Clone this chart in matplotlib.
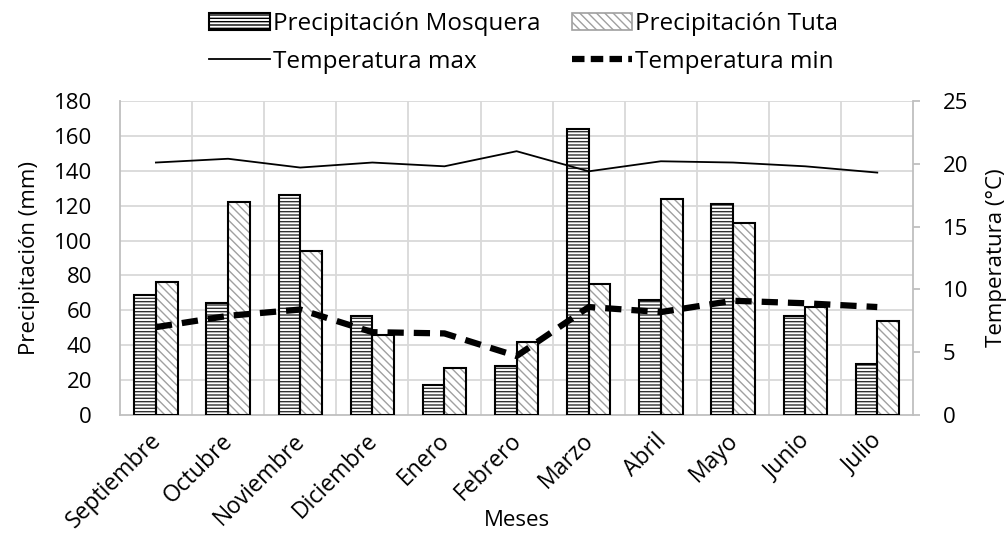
import matplotlib
matplotlib.use("Agg")
import matplotlib.pyplot as plt
import matplotlib.transforms as mtrans
import numpy as np
from matplotlib.lines import Line2D
from matplotlib.patches import Patch

months = ["Septiembre", "Octubre", "Noviembre", "Diciembre", "Enero", "Febrero",
          "Marzo", "Abril", "Mayo", "Junio", "Julio"]
prec_mosquera = [69, 64, 126, 57, 17, 28, 164, 66, 121, 57, 29]
prec_tuta = [76, 122, 94, 46, 27, 42, 75, 124, 110, 62, 54]
temp_max = [20.1, 20.4, 19.7, 20.1, 19.8, 21.0, 19.4, 20.2, 20.1, 19.8, 19.3]
temp_min = [7.0, 7.9, 8.4, 6.6, 6.5, 4.7, 8.6, 8.2, 9.1, 8.9, 8.6]

plt.rcParams['font.family'] = ['Open Sans', 'DejaVu Sans']
FS = 16
FSX = 16.5
FSL = 17.5

fig = plt.figure(figsize=(10.07, 5.37), dpi=100)
ax = fig.add_axes([0.119, 0.227, 0.788, 0.585])
ax2 = ax.twinx()

x = np.arange(len(months))
w = 0.30
grid_c = "#d9d9d9"

plt.rcParams['hatch.linewidth'] = 1.0
ax.bar(x - w/2, prec_mosquera, w, color="white", edgecolor="#303030", hatch="-----", linewidth=0, zorder=2)
ax.bar(x + w/2, prec_tuta, w, color="white", edgecolor="#a0a0a0", hatch="\\\\\\\\", linewidth=0, zorder=2)
ax.bar(x - w/2, prec_mosquera, w, fill=False, edgecolor="black", linewidth=1.5, zorder=3)
ax.bar(x + w/2, prec_tuta, w, fill=False, edgecolor="black", linewidth=1.5, zorder=3)

ax.set_xlim(-0.5, len(months) - 0.5)
ax.set_ylim(0, 180)
ax.set_yticks(np.arange(0, 181, 20))
ax.set_xticks(x)
ax.set_xticklabels(months, rotation=45, ha="right", rotation_mode="anchor", fontsize=FSX)
ax.tick_params(axis="x", length=0, pad=10)
ax.tick_params(axis="y", length=0, labelsize=FS, pad=20)
offset = mtrans.ScaledTranslation(-7/100, 0, fig.dpi_scale_trans)
for lab in ax.get_xticklabels():
    lab.set_transform(lab.get_transform() + offset)

for yv in np.arange(20, 181, 20):
    ax.axhline(yv, color=grid_c, lw=1.3, zorder=0)
for xv in np.arange(0.5, len(months) - 0.5, 1):
    ax.axvline(xv, color=grid_c, lw=1.3, zorder=0)

ax.spines["top"].set_visible(False)
ax2.spines["top"].set_visible(False)
ax.spines["right"].set_visible(False)
ax2.spines["left"].set_visible(False)
ax2.spines["bottom"].set_visible(False)
for sp in (ax.spines["left"], ax.spines["bottom"], ax2.spines["right"]):
    sp.set_color("#bfbfbf")
    sp.set_linewidth(1.3)

ax.set_ylabel("Precipitación (mm)", fontsize=FS, labelpad=10)
ax.set_xlabel("Meses", fontsize=FS, va="center")
ax.xaxis.set_label_coords(0.5, -0.335)

ax2.plot(x, temp_max, color="black", lw=1.3, zorder=4)
ax2.plot(x, temp_min, color="black", lw=4.5, dashes=(2.6, 1.6), zorder=4)
ax2.set_ylim(0, 25)
ax2.set_yticks(np.arange(0, 26, 5))
ax2.tick_params(axis="y", length=5, color="#bfbfbf", width=1.3, labelsize=FS, pad=16)
ax2.set_ylabel("Temperatura (°C)", fontsize=FS, labelpad=13)

h_mos = Patch(facecolor="white", edgecolor="black", hatch="-----", linewidth=1.5)
h_tut = Patch(facecolor="white", edgecolor="#a0a0a0", hatch="\\\\\\\\", linewidth=1.2)
h_max = Line2D([], [], color="black", lw=1.3)
h_min = Line2D([], [], color="black", lw=4.5, dashes=(2.0, 1.0))
handles = [h_mos, h_max, h_tut, h_min]
labels = ["Precipitación Mosquera", "Temperatura max", "Precipitación Tuta", "Temperatura min"]
fig.legend(handles, labels, loc="upper center", bbox_to_anchor=(0.52, 1.018), ncol=2,
           frameon=False, fontsize=FSL, handlelength=2.5, handleheight=0.7,
           handletextpad=0.12, columnspacing=1.3, labelspacing=0.55)

fig.savefig("out.png", dpi=100)
